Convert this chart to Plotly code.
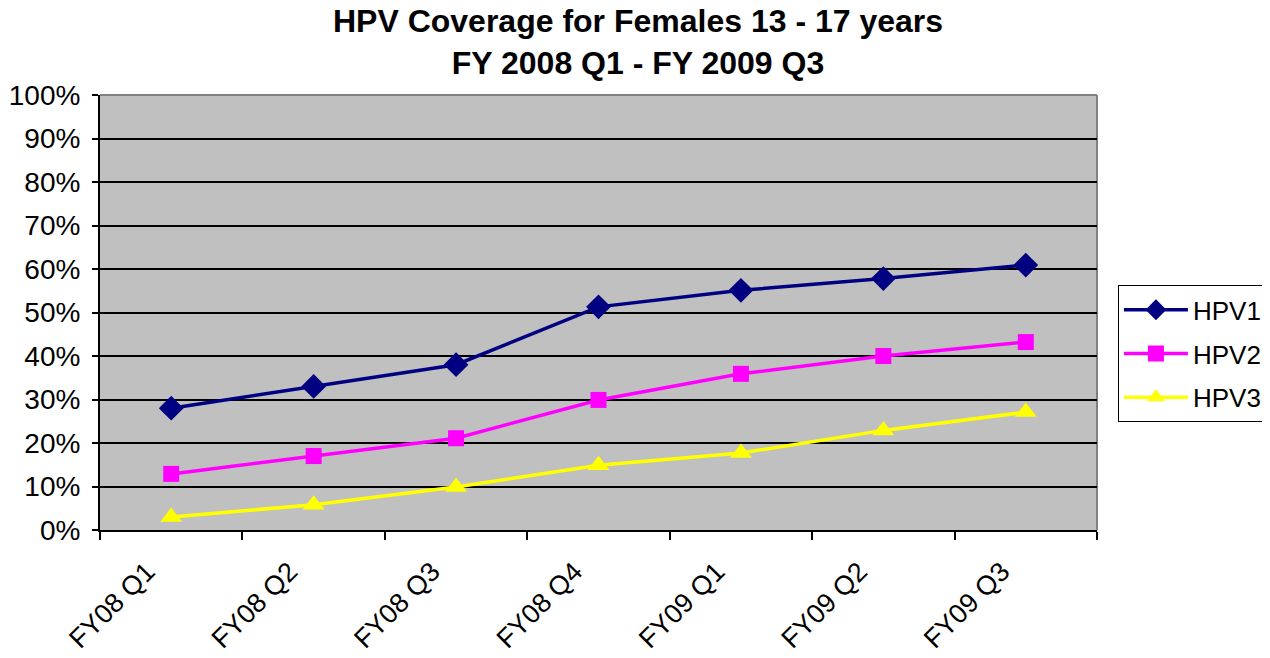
import plotly.graph_objects as go

categories = ["FY08 Q1", "FY08 Q2", "FY08 Q3", "FY08 Q4", "FY09 Q1", "FY09 Q2", "FY09 Q3"]
hpv1 = [0.28, 0.33, 0.38, 0.513, 0.551, 0.578, 0.609]
hpv2 = [0.129, 0.170, 0.211, 0.299, 0.359, 0.400, 0.432]
hpv3 = [0.030, 0.058, 0.099, 0.149, 0.177, 0.229, 0.271]
y_ticks = [i / 10 for i in range(11)]

FONT = "Liberation Sans, Arial, sans-serif"

fig = go.Figure()
series = [
    ("HPV1", hpv1, "#000080", "diamond", 19),
    ("HPV2", hpv2, "#FF00FF", "square", 16),
    ("HPV3", hpv3, "#FFFF00", "triangle-up", 19),
]
for name, vals, col, sym, sz in series:
    fig.add_trace(go.Scatter(
        x=categories, y=vals, name=name, mode="lines+markers", legendgroup=name,
        line=dict(color=col, width=3.5),
        marker=dict(symbol=sym, size=sz, color=col, line=dict(width=0)),
    ))

fig.update_layout(
    width=1270, height=658,
    margin=dict(l=92, r=181, t=87, b=136, autoexpand=False),
    paper_bgcolor="white",
    plot_bgcolor="#C0C0C0",
    font=dict(family=FONT, color="black", size=28),
    title=dict(
        text="<b>HPV Coverage for Females 13 - 17 years<br>FY 2008 Q1 - FY 2009 Q3</b>",
        x=0.5 - 5 / 1270, xref="container", xanchor="center",
        y=1, yref="paper", yanchor="bottom", pad=dict(b=63),
        font=dict(family=FONT, size=32, color="black"),
    ),
    xaxis=dict(
        type="category", range=[-0.5, 6.5], automargin=False,
        tickson="boundaries", ticks="outside", ticklen=8, tickwidth=2, tickcolor="black",
        showline=True, linecolor="black", linewidth=2,
        showgrid=False, tickangle=-45,
        ticklabelshift=-24, ticklabelstandoff=13,
        tickfont=dict(size=27),
    ),
    yaxis=dict(
        range=[0, 1], tickvals=y_ticks, tickformat=".0%", automargin=False,
        ticks="outside", ticklen=6, tickwidth=2, tickcolor="black",
        showline=True, linecolor="black", linewidth=2,
        showgrid=True, gridcolor="black", gridwidth=2,
        zeroline=False, tickfont=dict(size=28),
        ticklabelstandoff=6,
    ),
    legend=dict(
        x=1.021, xanchor="left", y=0.405, yanchor="middle",
        bordercolor="black", borderwidth=1, bgcolor="white",
        font=dict(size=26), tracegroupgap=7, itemwidth=64,
    ),
    showlegend=True,
)

fig.add_shape(type="line", xref="paper", yref="paper", x0=0, x1=1, y0=1, y1=1,
              line=dict(color="#808080", width=2), layer="between")
fig.add_shape(type="line", xref="paper", yref="paper", x0=1, x1=1, y0=0, y1=1,
              line=dict(color="#808080", width=2), layer="between")

fig.write_html("out.html")
